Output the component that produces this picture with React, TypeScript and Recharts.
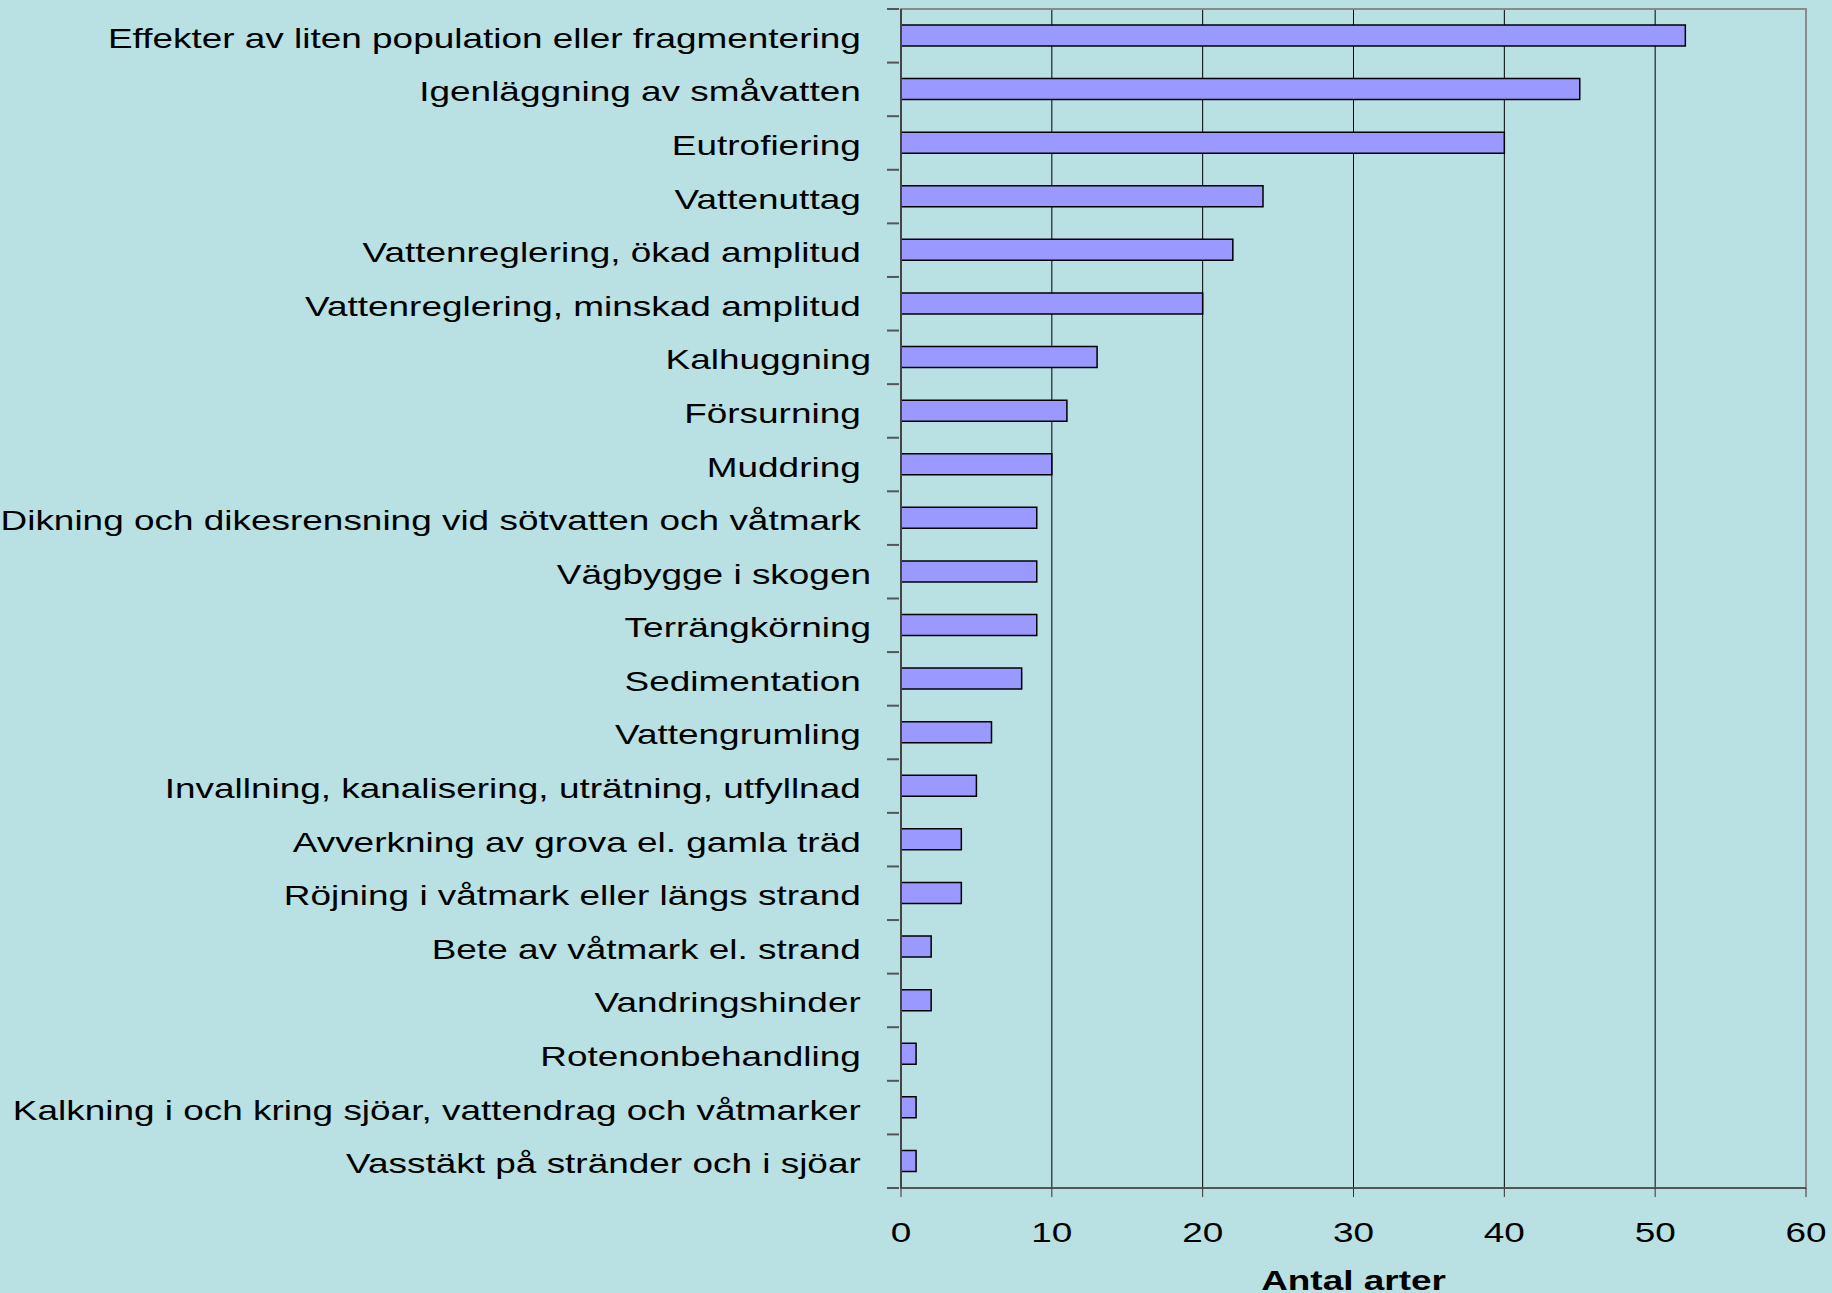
import React from 'react';
import { BarChart, Bar, XAxis, YAxis, CartesianGrid, ReferenceArea } from 'recharts';

const categories = [
  'Effekter av liten population eller fragmentering ',
  'Igenläggning av småvatten ',
  'Eutrofiering ',
  'Vattenuttag ',
  'Vattenreglering, ökad amplitud ',
  'Vattenreglering, minskad amplitud ',
  'Kalhuggning',
  'Försurning ',
  'Muddring ',
  'Dikning och dikesrensning vid sötvatten och våtmark ',
  'Vägbygge i skogen',
  'Terrängkörning',
  'Sedimentation ',
  'Vattengrumling ',
  'Invallning, kanalisering, uträtning, utfyllnad ',
  'Avverkning av grova el. gamla träd ',
  'Röjning i våtmark eller längs strand ',
  'Bete av våtmark el. strand ',
  'Vandringshinder ',
  'Rotenonbehandling ',
  'Kalkning i och kring sjöar, vattendrag och våtmarker ',
  'Vasstäkt på stränder och i sjöar ',
];

const antalArter = [52, 45, 40, 24, 22, 20, 13, 11, 10, 9, 9, 9, 8, 6, 5, 4, 4, 2, 2, 1, 1, 1];

const xTicks = [0, 10, 20, 30, 40, 50, 60];
const axisTitle = 'Antal arter';

const data = categories.map((name, i) => ({ name, value: antalArter[i] }));

const W = 1832;
const H = 1293;
const TOP = 9;
const BOTTOM = 105;
const RIGHT = 26;
const YAXIS_W = 901;
const FONT = '"Liberation Sans", Arial, sans-serif';
const STRETCH = 1.32;
const band = (H - TOP - BOTTOM) / categories.length;

function CategoryTick(props: any) {
  const { x, y, payload, index } = props;
  const axisX = x + 8;
  return (
    <g>
      <line x1={axisX - 12} x2={axisX} y1={y - band / 2} y2={y - band / 2} stroke="#555" strokeWidth={2} />
      {index === categories.length - 1 && (
        <line x1={axisX - 12} x2={axisX} y1={y + band / 2} y2={y + band / 2} stroke="#555" strokeWidth={2} />
      )}
      <text
        transform={`translate(${axisX - 28} ${y + 12}) scale(${STRETCH} 1)`}
        textAnchor="end"
        fontSize={28}
        fontFamily={FONT}
        fill="#000"
        style={{ whiteSpace: 'pre' }}
      >
        {payload.value}
      </text>
    </g>
  );
}

function ValueTick(props: any) {
  const { x, y, payload } = props;
  return (
    <text
      transform={`translate(${x} ${y + 43}) scale(${STRETCH} 1)`}
      textAnchor="middle"
      fontSize={28}
      fontFamily={FONT}
      fill="#000"
    >
      {payload.value}
    </text>
  );
}

function AxisTitle(props: any) {
  const { viewBox } = props;
  const cx = viewBox.x + viewBox.width / 2;
  return (
    <text
      transform={`translate(${cx} ${viewBox.y + 102}) scale(${STRETCH} 1)`}
      textAnchor="middle"
      fontSize={28}
      fontWeight="bold"
      fontFamily={FONT}
      fill="#000"
    >
      {axisTitle}
    </text>
  );
}

export default function App() {
  return (
    <div style={{ position: 'absolute', left: 0, top: 0, width: W, height: H, background: '#B9E0E3' }}>
      <BarChart
        width={W}
        height={H}
        data={data}
        layout="vertical"
        margin={{ top: TOP, right: RIGHT, bottom: 0, left: 0 }}
        barSize={21}
      >
        <CartesianGrid horizontal={false} stroke="#000" strokeWidth={1} />
        <ReferenceArea x1={0} x2={60} fill="none" stroke="#8a8a8a" strokeWidth={2} ifOverflow="visible" />
        <XAxis
          type="number"
          domain={[0, 60]}
          ticks={xTicks}
          interval={0}
          height={BOTTOM}
          stroke="#555"
          axisLine={{ stroke: '#555', strokeWidth: 2 }}
          tickLine={{ stroke: '#333', strokeWidth: 1 }}
          tickSize={9}
          tick={<ValueTick />}
          label={<AxisTitle />}
        />
        <YAxis
          type="category"
          dataKey="name"
          width={YAXIS_W}
          interval={0}
          axisLine={{ stroke: '#444', strokeWidth: 2 }}
          tickLine={false}
          tickSize={8}
          tick={<CategoryTick />}
        />
        <Bar dataKey="value" fill="#9999FF" stroke="#000" strokeWidth={1.5} isAnimationActive={false} />
      </BarChart>
    </div>
  );
}
